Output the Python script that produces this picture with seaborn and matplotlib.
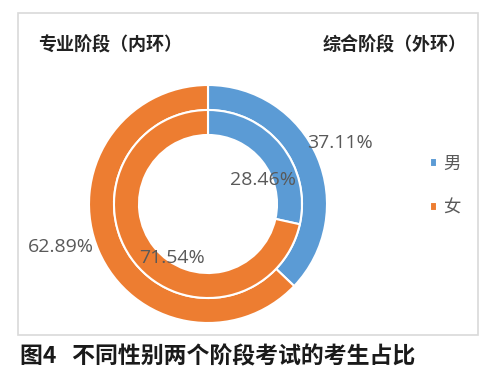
import seaborn as sns
import matplotlib.pyplot as plt
from matplotlib.patches import Rectangle

sns.set_theme(style="white")
plt.rcParams['font.family'] = ['Noto Sans CJK SC', 'DejaVu Sans']

# data
genders = ['男', '女']
outer_pct = [37.11, 62.89]   # 综合阶段（外环）
inner_pct = [28.46, 71.54]   # 专业阶段（内环）
colors = ['#5B9BD5', '#ED7D31']

# hand-placed label positions (in radius units), as in the original
outer_pos = [(1.11, 0.51), (-1.24, -0.36)]
inner_pos = [(0.46, 0.20), (-0.30, -0.45)]

fig = plt.figure(figsize=(5, 3.75), dpi=100)
fig.patch.set_facecolor('white')

# light frame around the chart area
fig.add_artist(Rectangle((18 / 500, 1 - 335 / 375), 460 / 500, 322 / 375,
                         transform=fig.transFigure, fill=False,
                         edgecolor='#d9d9d9', linewidth=1.2))

ax = fig.add_axes([89 / 500, 1 - 323 / 375, 238 / 500, 238 / 375])
ring = dict(width=0.21, edgecolor='white', linewidth=1.5)
outer, _ = ax.pie(outer_pct, radius=1.0, colors=colors, startangle=90,
                  counterclock=False, wedgeprops=ring)
inner, _ = ax.pie(inner_pct, radius=0.79, colors=colors, startangle=90,
                  counterclock=False, wedgeprops=ring)
ax.set_xlim(-1, 1)
ax.set_ylim(-1, 1)
ax.set_aspect('equal')

for vals, pos in [(outer_pct, outer_pos), (inner_pct, inner_pos)]:
    for v, (x, y) in zip(vals, pos):
        ax.text(x, y, f'{v:.2f}%', ha='center', va='center', fontsize=14,
                color='#595959', family=['Open Sans', 'DejaVu Sans'])

fig.text(38 / 500, 1 - 45 / 375, '专业阶段（内环）', fontsize=13,
         fontweight='bold', color='#222222', va='center', ha='left')
fig.text(467 / 500, 1 - 45 / 375, '综合阶段（外环）', fontsize=13,
         fontweight='bold', color='#222222', va='center', ha='right')

fig.legend(outer, genders, loc='center left',
           bbox_to_anchor=(414 / 500, 1 - 186 / 375), frameon=False,
           fontsize=12.5, handlelength=0.4, handleheight=0.4,
           handletextpad=0.4, labelspacing=1.5, labelcolor='#595959')

fig.text(20 / 500, 1 - 357 / 375, '图4   不同性别两个阶段考试的考生占比',
         fontsize=16.5, fontweight='bold', color='#1a1a1a',
         va='center', ha='left')

fig.savefig('out.png', dpi=100)
